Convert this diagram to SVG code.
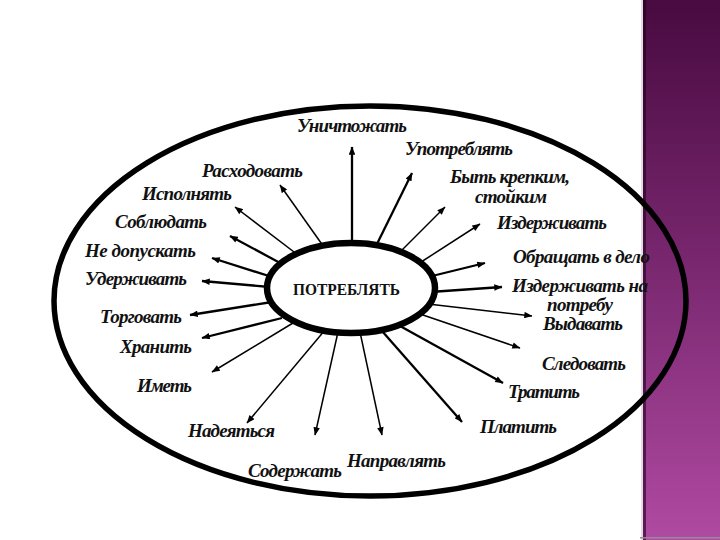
<svg xmlns="http://www.w3.org/2000/svg" width="720" height="540" viewBox="0 0 720 540">
<defs>
<linearGradient id="strip" x1="0" y1="0" x2="0" y2="1">
<stop offset="0" stop-color="#480a40"/>
<stop offset="0.5" stop-color="#7a2870"/>
<stop offset="1" stop-color="#b04aa2"/>
</linearGradient>
<linearGradient id="edge" x1="0" y1="0" x2="0" y2="1">
<stop offset="0" stop-color="#2e0629"/>
<stop offset="1" stop-color="#5a1c52"/>
</linearGradient>
<marker id="ah" viewBox="0 0 10 8" refX="9.5" refY="4" markerWidth="9" markerHeight="6.5" markerUnits="userSpaceOnUse" orient="auto">
<path d="M0,0 L10,4 L0,8 z" fill="#000"/>
</marker>
<style>
.w{font-family:"Liberation Serif","Times New Roman",serif;font-weight:bold;font-style:italic;font-size:19px;fill:#111}
.c{font-family:"Liberation Serif","Times New Roman",serif;font-weight:bold;font-size:16px;fill:#111}
.a{stroke:#000;fill:none;marker-end:url(#ah)}
.t1{stroke-width:2.3}
.t2{stroke-width:1.5}
</style>
</defs>
<rect x="0" y="0" width="720" height="540" fill="#fff"/>
<g id="strip-bg">
<rect x="643" y="0" width="77" height="540" fill="url(#strip)"/>
<rect x="643" y="0" width="3" height="540" fill="url(#edge)"/>
<rect x="641" y="0" width="2" height="540" fill="#e6d8e4"/>
<rect x="640" y="537" width="80" height="1.5" fill="#9a8a98"/>
</g>
<g id="outer-ellipse">
<ellipse cx="370" cy="301" rx="316" ry="195" fill="none" stroke="#000" stroke-width="5.5"/>
</g>
<g id="connectors">
<line class="a t1" x1="352" y1="250" x2="352" y2="147"/>
<line class="a t1" x1="374" y1="250" x2="412" y2="173"/>
<line class="a t2" x1="398" y1="254" x2="445" y2="207"/>
<line class="a t2" x1="418" y1="264" x2="480" y2="224"/>
<line class="a t1" x1="428" y1="277" x2="485" y2="263"/>
<line class="a t1" x1="430" y1="292" x2="502" y2="287"/>
<line class="a t2" x1="428" y1="304" x2="532" y2="316"/>
<line class="a t2" x1="420" y1="314" x2="520" y2="348"/>
<line class="a t1" x1="400" y1="326" x2="503" y2="383"/>
<line class="a t1" x1="382" y1="331" x2="462" y2="422"/>
<line class="a t2" x1="360" y1="332" x2="382" y2="435"/>
<line class="a t2" x1="338" y1="332" x2="315" y2="435"/>
<line class="a t2" x1="325" y1="330" x2="247" y2="423"/>
<line class="a t2" x1="293" y1="323" x2="212" y2="372"/>
<line class="a t1" x1="282" y1="318" x2="202" y2="338"/>
<line class="a t1" x1="272" y1="302" x2="190" y2="315"/>
<line class="a t1" x1="270" y1="287" x2="202" y2="281"/>
<line class="a t1" x1="272" y1="277" x2="212" y2="258"/>
<line class="a t1" x1="282" y1="264" x2="230" y2="236"/>
<line class="a t2" x1="298" y1="255" x2="235" y2="207"/>
<line class="a t2" x1="326" y1="250" x2="280" y2="185"/>
</g>
<g id="center">
<ellipse cx="351" cy="288" rx="84" ry="45" fill="#fff" stroke="#000" stroke-width="6.5"/>
<text class="c" x="293" y="295" textLength="107" lengthAdjust="spacingAndGlyphs">ПОТРЕБЛЯТЬ</text>
</g>
<g id="labels">
<text id="n1" class="w" x="297" y="132" textLength="110">Уничтожать</text>
<text id="n2" class="w" x="405" y="155" textLength="108">Употреблять</text>
<text id="n3" class="w" x="450" y="183" textLength="120">Быть крепким,</text>
<text id="n3b" class="w" x="475" y="203" textLength="72">стойким</text>
<text id="n4" class="w" x="497" y="229" textLength="110">Издерживать</text>
<text id="n5" class="w" x="513" y="263" textLength="137">Обращать в дело</text>
<text id="n6" class="w" x="512" y="292" textLength="136">Издерживать на</text>
<text id="n6b" class="w" x="547" y="311" textLength="66">потребу</text>
<text id="n7" class="w" x="543" y="330" textLength="80">Выдавать</text>
<text id="n8" class="w" x="542" y="370" textLength="84">Следовать</text>
<text id="n9" class="w" x="508" y="398" textLength="72">Тратить</text>
<text id="n10" class="w" x="480" y="433" textLength="77">Платить</text>
<text id="n11" class="w" x="347" y="467" textLength="99">Направлять</text>
<text id="n12" class="w" x="248" y="477" textLength="94">Содержать</text>
<text id="n13" class="w" x="188" y="437" textLength="87">Надеяться</text>
<text id="n14" class="w" x="137" y="392" textLength="55">Иметь</text>
<text id="n15" class="w" x="120" y="353" textLength="72">Хранить</text>
<text id="n16" class="w" x="100" y="323" textLength="82">Торговать</text>
<text id="n17" class="w" x="85" y="285" textLength="102">Удерживать</text>
<text id="n18" class="w" x="85" y="257" textLength="111">Не допускать</text>
<text id="n19" class="w" x="115" y="228" textLength="92">Соблюдать</text>
<text id="n20" class="w" x="142" y="200" textLength="90">Исполнять</text>
<text id="n21" class="w" x="202" y="177" textLength="101">Расходовать</text>
</g>
</svg>
